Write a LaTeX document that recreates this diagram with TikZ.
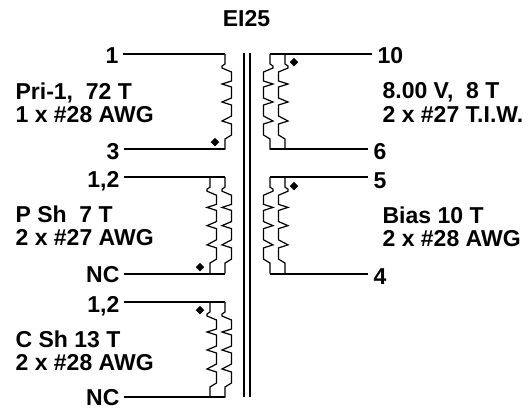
\documentclass[tikz,border=0pt]{standalone}
\usepackage{fontspec}
\setmainfont{Liberation Sans}
\usetikzlibrary{shapes.geometric}

\begin{document}
\begin{tikzpicture}[x=1pt,y=-1pt,line width=1.2pt,
  lbl/.style={font=\fontsize{23}{23.5}\selectfont\bfseries,inner sep=0pt},
  pin/.style={lbl,anchor=east,inner xsep=4pt,text height=16.5pt,text depth=0pt},
  pinr/.style={lbl,anchor=west,inner xsep=5pt,text height=16.5pt,text depth=0pt},
  info/.style={lbl,anchor=north west,align=left},
  phase/.style={diamond,fill=black,inner sep=0pt,minimum size=9pt},
  coil/.pic={
    \draw (0,0)--(0,10)--(-3,12)--(-3,14)--(6.5,18)--(6.5,27)
      \foreach\b in {30,48,67} { --(-3,\b)--(6.5,\b+3)--(6.5,\b+14) }
      --(0,85)--(0,95.5);
  }]
  \useasboundingbox (0,0) rectangle (531,408);
  \node[lbl] (title) at (246.5,18.5) {EI25};
  % Kern
  \coordinate (coreA) at (244,53);
  \coordinate (coreB) at (250,53);
  \draw (coreA)--++(0,344);
  \draw (coreB)--++(0,344);
  % Pri-1
  \node[pin] (p1) at (123,55) {1};
  \node[pin] (p3) at (124,151) {3};
  \coordinate (p1c) at (225,54);
  \coordinate (p3c) at (225,149);
  \draw (p1c -| p1.east)--(p1c) (p3c -| p3.east)--(p3c);
  \path (p1c) pic {coil};
  \node[phase] (dot1) at (215,142) {};
  \node[info] (txt1) at (15,82) {Pri-1,\ \ 72 T\\1 x \#28 AWG};
  % P Sh
  \node[pin] (p12a) at (124,179.5) {1,2};
  \node[pin] (pnca) at (124,274) {NC};
  \coordinate (pa1) at (210,177);
  \coordinate (pa2) at (225,177);
  \coordinate (pa3) at (225,274);
  \draw (pa2 -| p12a.east)--(pa2) (pa3 -| pnca.east)--(pa3);
  \path (pa1) pic[yscale=1.013] {coil} (pa2) pic[yscale=1.013] {coil};
  \node[phase] (dot2) at (200,267) {};
  \node[info] (txt2) at (15,205) {P Sh\ \ 7 T\\2 x \#27 AWG};
  % C Sh
  \node[pin] (p12b) at (124,304.5) {1,2};
  \node[pin] (pncb) at (124,397.5) {NC};
  \coordinate (pb1) at (210,302);
  \coordinate (pb2) at (225,302);
  \coordinate (pb3) at (225,397);
  \draw (pb2 -| p12b.east)--(pb2) (pb3 -| pncb.east)--(pb3);
  \path (pb1) pic {coil} (pb2) pic {coil};
  \node[phase] (dot3) at (200,310) {};
  \node[info] (txt3) at (15,330) {C Sh 13 T\\2 x \#28 AWG};
  % 8.00 V
  \node[pinr] (p10) at (372,55) {10};
  \node[pinr] (p6) at (368,151) {6};
  \coordinate (q1) at (270,54);
  \coordinate (q2) at (285,54);
  \coordinate (q3) at (270,149);
  \draw (q1 -| p10.west)--(q1) (q3 -| p6.west)--(q3);
  \path (q1) pic[xscale=-1] {coil} (q2) pic[xscale=-1] {coil};
  \node[phase] (dot4) at (294,62) {};
  \node[info] (txt4) at (382,82) {8.00 V,\ \ 8 T\\2 x \#27 T.I.W.};
  % Bias
  \node[pinr] (p5) at (368,180) {5};
  \node[pinr] (p4) at (368,276) {4};
  \coordinate (r1) at (270,177);
  \coordinate (r2) at (285,177);
  \coordinate (r3) at (270,274);
  \draw (r1 -| p5.west)--(r1) (r3 -| p4.west)--(r3);
  \path (r1) pic[xscale=-1,yscale=1.013] {coil} (r2) pic[xscale=-1,yscale=1.013] {coil};
  \node[phase] (dot5) at (294,186) {};
  \node[info] (txt5) at (382,206) {Bias 10 T\\2 x \#28 AWG};
\end{tikzpicture}
\end{document}
